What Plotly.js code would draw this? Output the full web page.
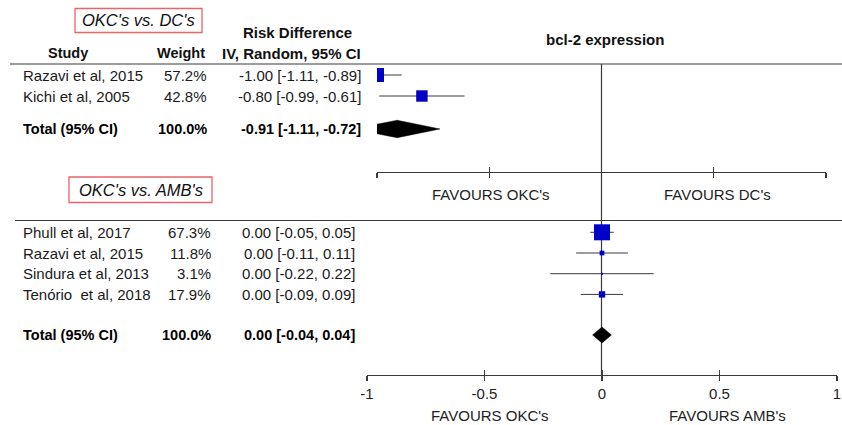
<!DOCTYPE html>
<html>
<head>
<meta charset="utf-8">
<script src="https://cdn.plot.ly/plotly-3.0.1.min.js"></script>
<style>html,body{margin:0;padding:0;background:#fff;}#chart{width:842px;height:425px;}</style>
</head>
<body>
<div id="chart"></div>
<script>
// ---------- DATA ----------
const topGroupLabel = "OKC's vs. DC's";
const topStudies = ['Razavi et al, 2015', 'Kichi et al, 2005'];
const topWeights = [57.2, 42.8];
const topEst = [-1.00, -0.80];
const topLo = [-1.11, -0.99];
const topHi = [-0.89, -0.61];
const topTotal = [-0.91, -1.11, -0.72]; // estimate, lower, upper
const topFavours = ["FAVOURS OKC's", "FAVOURS DC's"];

const botGroupLabel = "OKC's vs. AMB's";
const botStudies = ['Phull et al, 2017', 'Razavi et al, 2015', 'Sindura et al, 2013', 'Ten\u00f3rio\u00a0 et al, 2018'];
const botWeights = [67.3, 11.8, 3.1, 17.9];
const botEst = [0.00, 0.00, 0.00, 0.00];
const botLo = [-0.05, -0.11, -0.22, -0.09];
const botHi = [0.05, 0.11, 0.22, 0.09];
const botTotal = [0.00, -0.04, 0.04];
const botFavours = ["FAVOURS OKC's", "FAVOURS AMB's"];

const tickVals = [-1, -0.5, 0, 0.5, 1];
const tickLabels = ['-1', '-0.5', '0', '0.5', '1'];
const chartTitle = 'bcl-2 expression';
const totalLabel = 'Total (95% CI)';
const totalWeight = '100.0%';

// ---------- LAYOUT HELPERS ----------
const W = 842, H = 425;
const px = x => x / W;
const py = y => 1 - y / H;
const FONT = 'Liberation Sans, Arial, sans-serif';
const TXT = '#1a1a1a';
const BLUE = '#0000c8';
const LINE = '#3a3a3a';
const REG = 15, BOLD = 14.5;

function fmtCI(e, l, h) { return e.toFixed(2) + ' [' + l.toFixed(2) + ', ' + h.toFixed(2) + ']'; }
function sizeOf(w, weights, maxSize) { const m = Math.max.apply(null, weights); return maxSize * Math.pow(w / m, 0.7); }

// panel geometry (pixels)
const P = {
  top: { xL: 377, xR: 826, yT: 64, yB: 172, row0: 75, step: 21, totalGap: 0.57, dh: 8.7, maxSq: 14,
         nameX: 21, wX: 209, ciX: 363 },
  bot: { xL: 367, xR: 837, yT: 221, yB: 375, row0: 232.3, step: 20.7, totalGap: 0.96, dh: 8, maxSq: 16,
         nameX: 21, wX: 213, ciX: 357 }
};
function yRange(g) { return [(g.yB - g.row0) / g.step, (g.yT - g.row0) / g.step]; }

const traces = [];
const annotations = [];
const shapes = [];

function addPanel(g, names, weights, est, lo, hi, total, xa, ya, yref) {
  const rows = names.map((_, i) => i);
  traces.push({
    type: 'scatter', mode: 'markers', x: est, y: rows, xaxis: xa, yaxis: ya,
    marker: { symbol: 'square', color: BLUE, opacity: 1, size: weights.map(w => sizeOf(w, weights, g.maxSq)), line: { width: 0 } },
    error_x: { type: 'data', symmetric: false, array: hi.map((h, i) => h - est[i]), arrayminus: lo.map((l, i) => est[i] - l),
               color: LINE, thickness: 1, width: 0 },
    cliponaxis: true, hoverinfo: 'skip', showlegend: false
  });
  const tr = names.length - 1 + 1 + g.totalGap;
  const h = g.dh / g.step;
  traces.push({
    type: 'scatter', mode: 'lines', x: [total[1], total[0], total[2], total[0], total[1]],
    y: [tr, tr - h, tr, tr + h, tr], xaxis: xa, yaxis: ya,
    fill: 'toself', fillcolor: '#000', line: { color: '#000', width: 0.5 }, hoverinfo: 'skip', showlegend: false
  });
  const reg = { family: FONT, size: REG, color: TXT };
  const bold = { family: FONT, size: BOLD, color: '#000', weight: 'bold' };
  names.forEach((n, i) => {
    annotations.push({ xref: 'paper', yref: yref, x: px(g.nameX), y: i, text: n, xanchor: 'left', yanchor: 'middle', showarrow: false, font: reg });
    annotations.push({ xref: 'paper', yref: yref, x: px(g.wX), y: i, text: weights[i].toFixed(1) + '%', xanchor: 'right', yanchor: 'middle', showarrow: false, font: reg });
    annotations.push({ xref: 'paper', yref: yref, x: px(g.ciX), y: i, text: fmtCI(est[i], lo[i], hi[i]), xanchor: 'right', yanchor: 'middle', showarrow: false, font: reg });
  });
  annotations.push({ xref: 'paper', yref: yref, x: px(g.nameX), y: tr, text: '<b>' + totalLabel + '</b>', xanchor: 'left', yanchor: 'middle', showarrow: false, font: bold });
  annotations.push({ xref: 'paper', yref: yref, x: px(g.wX), y: tr, text: '<b>' + totalWeight + '</b>', xanchor: 'right', yanchor: 'middle', showarrow: false, font: bold });
  annotations.push({ xref: 'paper', yref: yref, x: px(g.ciX), y: tr, text: '<b>' + fmtCI(total[0], total[1], total[2]) + '</b>', xanchor: 'right', yanchor: 'middle', showarrow: false, font: bold });
}

addPanel(P.top, topStudies, topWeights, topEst, topLo, topHi, topTotal, 'x', 'y', 'y');
addPanel(P.bot, botStudies, botWeights, botEst, botLo, botHi, botTotal, 'x2', 'y2', 'y2');

// header texts
const hb = { family: FONT, size: 15, color: '#111', weight: 'bold' };
function ann(x, y, t, f, xa) { annotations.push({ xref: 'paper', yref: 'paper', x: px(x), y: py(y), text: t, xanchor: xa || 'center', yanchor: 'middle', showarrow: false, font: f }); }
ann(297, 33, '<b>Risk Difference</b>', hb);
ann(68, 53, '<b>Study</b>', { family: FONT, size: 14.5, color: '#111' });
ann(181, 53, '<b>Weight</b>', { family: FONT, size: 14.5, color: '#111' });
ann(291, 53, '<b>IV, Random, 95% CI</b>', hb);
ann(605, 39, '<b>' + chartTitle + '</b>', hb);
const it = { family: FONT, size: 16.5, color: '#111' };
ann(138.5, 20.5, '<i>' + topGroupLabel + '</i>', it);
ann(140.5, 190, '<i>' + botGroupLabel + '</i>', it);
const fav = { family: FONT, size: REG, color: '#222' };
ann(491, 195, topFavours[0], fav);
ann(717, 195, topFavours[1], fav);
ann(490, 415, botFavours[0], fav);
ann(727, 415, botFavours[1], fav);

// red label boxes
const RED = '#e8646a';
shapes.push({ type: 'rect', xref: 'paper', yref: 'paper', x0: px(75), x1: px(202), y0: py(32.5), y1: py(8.5), line: { color: RED, width: 1.3 } });
shapes.push({ type: 'rect', xref: 'paper', yref: 'paper', x0: px(69), x1: px(212), y0: py(202.5), y1: py(177), line: { color: RED, width: 1.3 } });
// horizontal rules
shapes.push({ type: 'line', xref: 'paper', yref: 'paper', x0: px(10), x1: 1, y0: py(64), y1: py(64), line: { color: LINE, width: 1.2 } });
shapes.push({ type: 'line', xref: 'paper', yref: 'paper', x0: px(15), x1: 1, y0: py(220.5), y1: py(220.5), line: { color: LINE, width: 1.2 } });
// line of no effect
shapes.push({ type: 'line', xref: 'x', yref: 'paper', x0: 0, x1: 0, y0: py(375), y1: py(64), layer: 'below', line: { color: LINE, width: 1.2 } });

const axBase = { range: [-1, 1], tickvals: tickVals, showgrid: false, zeroline: false, fixedrange: true,
                 linecolor: LINE, linewidth: 1.2, tickcolor: LINE, tickwidth: 1.2, ticklen: 5 };
const layout = {
  width: W, height: H, margin: { l: 0, r: 0, t: 0, b: 0 },
  paper_bgcolor: '#fff', plot_bgcolor: 'rgba(0,0,0,0)', showlegend: false,
  font: { family: FONT, color: TXT },
  xaxis: Object.assign({}, axBase, { domain: [px(P.top.xL), px(P.top.xR)], anchor: 'y', showline: true, ticks: 'outside', showticklabels: false }),
  xaxis3: Object.assign({}, axBase, { overlaying: 'x', anchor: 'y', showline: false, ticks: 'inside', showticklabels: false }),
  yaxis: { domain: [py(P.top.yB), py(P.top.yT)], range: yRange(P.top), visible: false, fixedrange: true, anchor: 'x' },
  xaxis2: Object.assign({}, axBase, { domain: [px(P.bot.xL), px(P.bot.xR)], anchor: 'y2', showline: true, ticks: 'outside',
            ticktext: tickLabels, tickfont: { family: FONT, size: REG, color: '#222' } }),
  xaxis4: Object.assign({}, axBase, { overlaying: 'x2', anchor: 'y2', showline: false, ticks: 'inside', showticklabels: false }),
  yaxis2: { domain: [py(P.bot.yB), py(P.bot.yT)], range: yRange(P.bot), visible: false, fixedrange: true, anchor: 'x2' },
  shapes: shapes, annotations: annotations
};
// empty traces so the overlay tick axes are built
traces.push({ type: 'scatter', x: [], y: [], xaxis: 'x3', yaxis: 'y', showlegend: false, hoverinfo: 'skip' });
traces.push({ type: 'scatter', x: [], y: [], xaxis: 'x4', yaxis: 'y2', showlegend: false, hoverinfo: 'skip' });

Plotly.newPlot('chart', traces, layout, { staticPlot: true, displayModeBar: false });
</script>
</body>
</html>
